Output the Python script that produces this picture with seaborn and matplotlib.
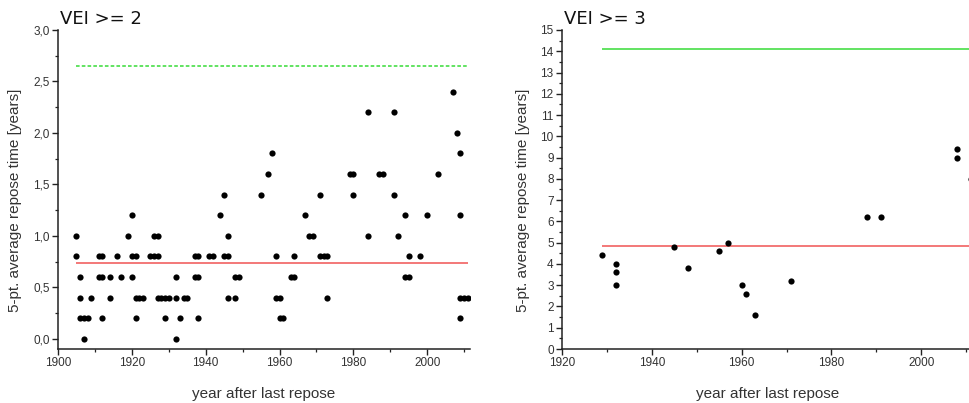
import matplotlib
matplotlib.use("Agg")
import matplotlib.pyplot as plt
from matplotlib.ticker import MultipleLocator, FixedLocator, FuncFormatter
import pandas as pd
import seaborn as sns

# VEI >= 2: eruption year and 5-point average repose time [years]
vei2_year = [1905, 1905, 1906, 1906, 1906, 1907, 1907, 1908, 1909,
             1911, 1911, 1912, 1912, 1912, 1914, 1914, 1916, 1917, 1919,
             1920, 1920, 1920, 1921, 1921, 1921, 1922, 1923, 1925, 1926, 1926,
             1927, 1927, 1927, 1928, 1929, 1929,
             1930, 1932, 1932, 1932, 1933, 1934, 1935, 1937, 1937, 1938, 1938, 1938,
             1941, 1942, 1944, 1945, 1945, 1946, 1946, 1946, 1948, 1948, 1949,
             1955, 1957, 1958,
             1959, 1959, 1960, 1960, 1961, 1963, 1964, 1964, 1967, 1968, 1969,
             1971, 1971, 1972, 1973, 1973, 1979, 1980, 1980, 1984, 1984, 1987, 1988,
             1991, 1991, 1992, 1994, 1994, 1995, 1995, 1998, 2000, 2003,
             2007, 2008, 2009, 2009, 2009, 2009, 2010, 2011]
vei2_repose = [0.8, 1.0, 0.2, 0.4, 0.6, 0.0, 0.2, 0.2, 0.4,
               0.6, 0.8, 0.2, 0.6, 0.8, 0.4, 0.6, 0.8, 0.6, 1.0,
               0.6, 0.8, 1.2, 0.2, 0.4, 0.8, 0.4, 0.4, 0.8, 0.8, 1.0,
               0.4, 0.8, 1.0, 0.4, 0.2, 0.4,
               0.4, 0.0, 0.4, 0.6, 0.2, 0.4, 0.4, 0.6, 0.8, 0.2, 0.6, 0.8,
               0.8, 0.8, 1.2, 0.8, 1.4, 0.4, 0.8, 1.0, 0.4, 0.6, 0.6,
               1.4, 1.6, 1.8,
               0.4, 0.8, 0.2, 0.4, 0.2, 0.6, 0.6, 0.8, 1.2, 1.0, 1.0,
               0.8, 1.4, 0.8, 0.4, 0.8, 1.6, 1.4, 1.6, 1.0, 2.2, 1.6, 1.6,
               1.4, 2.2, 1.0, 0.6, 1.2, 0.6, 0.8, 0.8, 1.2, 1.6,
               2.4, 2.0, 0.2, 0.4, 1.2, 1.8, 0.4, 0.4]
vei2_mean = 0.74
vei2_upper = 2.65
vei2_xticks = [1900, 1920, 1940, 1960, 1980, 2000]

# VEI >= 3
vei3_year = [1929, 1932, 1932, 1932, 1945, 1948, 1955, 1957, 1960,
             1961, 1963, 1971, 1988, 1991, 2008, 2008, 2011]
vei3_repose = [4.4, 4.0, 3.6, 3.0, 4.8, 3.8, 4.6, 5.0, 3.0,
               2.6, 1.6, 3.2, 6.2, 6.2, 9.4, 9.0, 8.0]
vei3_mean = 4.82
vei3_upper = 14.1
vei3_xticks = [1920, 1940, 1960, 1980, 2000]

sns.set_style("ticks")
plt.rcParams["font.family"] = ["Liberation Sans", "DejaVu Sans"]

W, H = 970, 403
fig = plt.figure(figsize=(W / 100, H / 100), dpi=100)

def px_axes(left, bottom, right, top):
    return fig.add_axes([left / W, 1 - bottom / H, (right - left) / W, (bottom - top) / H])

ax1 = px_axes(58, 349, 470, 30)
ax2 = px_axes(562, 349, 1011, 30)

comma = FuncFormatter(lambda v, p: f"{v:.1f}".replace(".", ","))
whole = FuncFormatter(lambda v, p: f"{v:.0f}")

panels = [
    (ax1, vei2_year, vei2_repose, vei2_mean, vei2_upper, "VEI >= 2", vei2_xticks,
     (1900, 2011.6), (-0.1, 3.0), 0.5, 0.25, comma, (0, (2.0, 1.2))),
    (ax2, vei3_year, vei3_repose, vei3_mean, vei3_upper, "VEI >= 3", vei3_xticks,
     (1920, 2020), (0, 15), 1, 0.5, whole, "-"),
]

for ax, yr, rep, mean, upper, title, xt, xl, yl, ymaj, ymin, fmt, gls in panels:
    df = pd.DataFrame({"year": yr, "repose": rep})
    sns.scatterplot(data=df, x="year", y="repose", ax=ax, color="black",
                    s=20, linewidth=0, zorder=3)
    x0, x1 = min(yr), max(yr)
    ax.hlines(upper, x0, x1, colors="#55e055", linewidth=1.3, linestyles=gls, zorder=2)
    ax.hlines(mean, x0, x1, colors="#f26d6d", linewidth=1.3, zorder=2)

    ax.set_xlim(*xl)
    ax.set_ylim(*yl)
    ax.xaxis.set_major_locator(FixedLocator(xt))
    ax.xaxis.set_minor_locator(MultipleLocator(10))
    ax.yaxis.set_major_locator(MultipleLocator(ymaj))
    ax.yaxis.set_minor_locator(MultipleLocator(ymin))
    ax.yaxis.set_major_formatter(fmt)

    for s in ("top", "right"):
        ax.spines[s].set_visible(False)
    for s in ("left", "bottom"):
        ax.spines[s].set_linewidth(1.1)
        ax.spines[s].set_color("#222222")
    ax.tick_params(which="major", direction="out", length=4, width=1.0,
                   color="#222222", labelsize=8.5, labelcolor="#333333", pad=2)
    ax.tick_params(which="minor", direction="out", length=2.5, width=0.9, color="#222222")

    ax.set_xlabel("year after last repose", fontsize=11, color="#333333")
    ax.set_ylabel("5-pt. average repose time [years]", fontsize=11, color="#333333")
    ax.text(0.005, 1.005, title, transform=ax.transAxes, fontsize=13,
            family="DejaVu Sans", color="#111111", ha="left", va="bottom")

ax1.xaxis.set_label_coords((264 - 58) / 412, -0.12)
ax2.xaxis.set_label_coords((768 - 562) / 449, -0.12)
ax1.yaxis.set_label_coords(-(58 - 22) / 412, (349 - 200) / 319)
ax2.yaxis.set_label_coords(-(562 - 530) / 449, (349 - 200) / 319)

fig.savefig("out.png", dpi=100, facecolor="white")
